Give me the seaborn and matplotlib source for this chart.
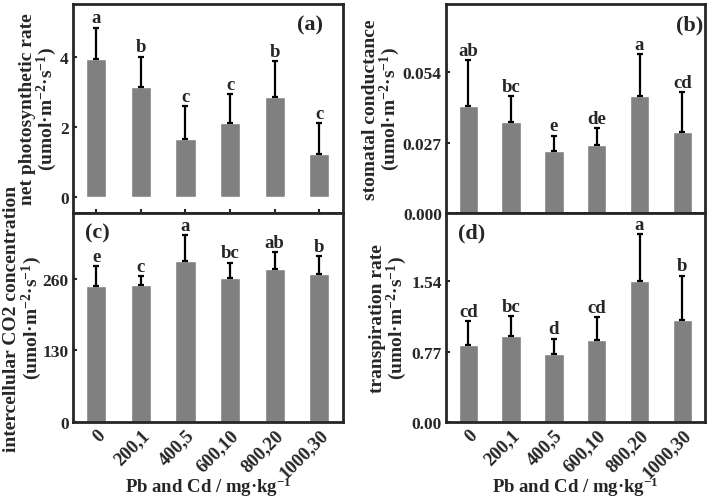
import matplotlib
matplotlib.use('Agg')
import matplotlib.pyplot as plt
import seaborn as sns
import numpy as np

# treatments (Pb, Cd mg/kg)
treatments = ['0', '200,1', '400,5', '600,10', '800,20', '1000,30']

pn_mean = [3.94, 3.15, 1.66, 2.12, 2.86, 1.22]
pn_err = [0.91, 0.87, 0.94, 0.83, 1.03, 0.90]
pn_sig = ['a', 'b', 'c', 'c', 'b', 'c']

gs_mean = [0.041, 0.0349, 0.0239, 0.026, 0.045, 0.031]
gs_err = [0.0178, 0.0100, 0.0058, 0.0067, 0.016, 0.0154]
gs_sig = ['ab', 'bc', 'e', 'de', 'a', 'cd']

ci_mean = [246, 249, 292, 262, 278, 269]
ci_err = [37, 15, 47, 27, 30, 32]
ci_sig = ['e', 'c', 'a', 'bc', 'ab', 'b']

tr_mean = [0.847, 0.935, 0.745, 0.899, 1.54, 1.119]
tr_err = [0.257, 0.22, 0.165, 0.249, 0.514, 0.481]
tr_sig = ['cd', 'bc', 'd', 'cd', 'a', 'b']

sns.set_style('ticks')
plt.rcParams['font.family'] = ['Liberation Serif', 'DejaVu Serif']
plt.rcParams['font.weight'] = 'bold'
plt.rcParams['axes.labelweight'] = 'bold'
plt.rcParams['mathtext.fontset'] = 'custom'
plt.rcParams['mathtext.rm'] = 'Liberation Serif:bold'
plt.rcParams['mathtext.it'] = 'Liberation Serif:bold'
plt.rcParams['mathtext.bf'] = 'Liberation Serif:bold'
plt.rcParams['mathtext.default'] = 'rm'

unit = '(umol·m$^{-2}$·s$^{-1}$)'
xlab = 'Pb and Cd / mg·kg$^{-1}$'

fig = plt.figure(figsize=(7.2, 5.02), dpi=100)
W, H = 720, 502


def add_ax(x0, x1, y0, y1):
    return fig.add_axes([x0 / W, 1 - y1 / H, (x1 - x0) / W, (y1 - y0) / H])


panels = [
    (add_ax(73, 343, 5, 214), pn_mean, pn_err, pn_sig, 'net photosynthetic rate\n' + unit,
     (-0.46, 5.53), [0, 2, 4], '{:.0f}', '(a)', (0.878, 0.90), False, -0.05),
    (add_ax(446, 705, 5, 214), gs_mean, gs_err, gs_sig, 'stomatal conductance\n' + unit,
     (0, 0.0803), [0, 0.027, 0.054], '{:.3f}', '(b)', (0.94, 0.90), False, -0.168),
    (add_ax(73, 343, 214, 423), ci_mean, ci_err, ci_sig, 'intercellular CO2 concentration\n' + unit,
     (0, 379), [0, 130, 260], '{:.0f}', '(c)', (0.09, 0.905), True, -0.108),
    (add_ax(446, 705, 214, 423), tr_mean, tr_err, tr_sig, 'transpiration rate\n' + unit,
     (0, 2.285), [0, 0.77, 1.54], '{:.2f}', '(d)', (0.10, 0.905), True, -0.142),
]

for ax, mean, err, sig, ylab, ylim, yt, fmt, tag, tagpos, bottom, ylx in panels:
    sns.barplot(x=treatments, y=mean, color='#808080', saturation=1, width=0.45, ax=ax)
    xs = np.arange(len(mean))
    ax.errorbar(xs, mean, yerr=[np.zeros(len(err)), err], fmt='none', ecolor='black',
                elinewidth=1.6, capsize=2.5, capthick=1.6)
    for x, m, e, s in zip(xs, mean, err, sig):
        ax.annotate(s, (x, m + e), xytext=(0, 1), textcoords='offset points',
                    ha='center', va='bottom', fontsize=13.5, fontweight='bold')
    ax.set_xlim(-0.52, 5.53)
    ax.set_ylim(*ylim)
    ax.set_yticks(yt)
    ax.set_yticklabels([fmt.format(v) for v in yt], fontsize=12.5, fontweight='bold')
    ax.set_ylabel(ylab, fontsize=14, fontweight='bold', linespacing=0.95)
    ax.yaxis.set_label_coords(ylx, 0.5)
    ax.text(tagpos[0], tagpos[1], tag, transform=ax.transAxes, ha='center', va='center',
            fontsize=16, fontweight='bold')
    ax.tick_params(axis='x', direction='in', length=3, width=1.5, pad=3)
    ax.tick_params(axis='y', direction='in', length=3, width=1.5, pad=3)
    for sp in ax.spines.values():
        sp.set_visible(True)
        sp.set_linewidth(2)
    ax.set_xticks(xs)
    if bottom:
        ax.set_xticklabels(treatments, rotation=45, ha='right', rotation_mode='anchor',
                           fontsize=13.5, fontweight='bold')
        ax.set_xlabel(xlab, fontsize=13.5, fontweight='bold')
        ax.xaxis.set_label_coords(0.5, -0.252)
    else:
        ax.set_xticklabels([])
        ax.set_xlabel('')

fig.savefig('out.png', dpi=100)
